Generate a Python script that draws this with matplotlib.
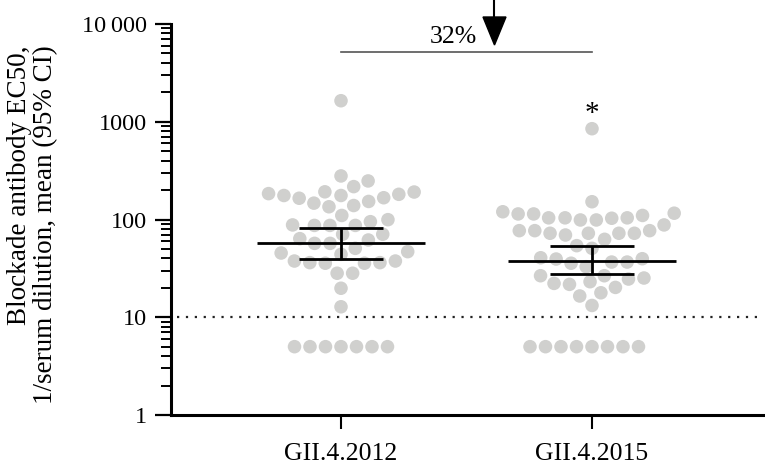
import numpy as np
import matplotlib
matplotlib.use("Agg")
import matplotlib.pyplot as plt
from matplotlib.lines import Line2D
from matplotlib.patches import Polygon
from matplotlib.ticker import LogLocator, NullFormatter, FixedLocator

plt.rcParams['font.family'] = ['Liberation Serif', 'DejaVu Serif']

categories = ["GII.4.2012", "GII.4.2015"]
values_2012 = [1641, 279, 248, 217, 191, 181, 176, 165, 147, 135, 139, 153, 167, 176,
               184, 192, 99.6, 110, 95, 87, 87, 87, 88, 70.6, 63.7, 70.6, 61.7, 57, 57,
               50.7, 45.4, 44, 46.9, 37.6, 36.2, 35.7, 35.7, 36.2, 37.6, 28.2, 28.2,
               19.8, 12.8, 5, 5, 5, 5, 5, 5, 5]
values_2015 = [849, 152, 104, 104, 98.9, 88, 116, 114, 114, 120, 98.9, 103, 104, 110,
               72.3, 72.3, 76.9, 76.9, 76.9, 69.4, 72.3, 72.3, 62.7, 50.7, 54, 39.7,
               36.7, 35.7, 32.9, 36.7, 39.4, 40.6, 26.6, 24.6, 22.2, 20.2, 21.7, 23.1,
               25.2, 26.6, 16.5, 17.8, 13.2, 5, 5, 5, 5, 5, 5, 5, 5]
means = [57, 38]
ci_low = [39.5, 27.7]
ci_high = [81, 53.6]
ytick_vals = [1, 10, 100, 1000, 10000]
ytick_labels = ["1", "10", "100", "1000", "10\u2009000"]
threshold = 10
reduction_label = "32%"

W, H = 765, 470
fig = plt.figure(figsize=(W / 100, H / 100), dpi=100)
ax = fig.add_axes([171 / W, 55 / H, (763 - 171) / W, (415 - 24) / H])
ax.set_yscale('log')
ax.set_ylim(1, 10000)
ax.set_xlim(-170 / 251, 422 / 251)

fig.canvas.draw()
px_per_unit = ax.transData.transform((1, 1))[0] - ax.transData.transform((0, 1))[0]


def swarm(values, center, diam):
    vals = np.asarray(values, float)
    ys = ax.transData.transform(np.column_stack([np.full(len(vals), center), vals]))[:, 1]
    order = np.argsort(ys, kind='stable')
    placed = []
    xs = np.zeros(len(vals))
    for i in order:
        y = ys[i]
        cands = [0.0]
        for (px, py) in placed:
            dy = y - py
            if abs(dy) < diam:
                dx = np.sqrt(diam ** 2 - dy ** 2)
                cands += [px - dx, px + dx]
        cands.sort(key=abs)
        chosen = cands[-1]
        for c in cands:
            if all((c - px) ** 2 + (y - py) ** 2 >= diam ** 2 - 1e-6 for px, py in placed):
                chosen = c
                break
        placed.append((chosen, y))
        xs[i] = chosen
    return center + xs / px_per_unit


point_color = '#d0d0ce'
for pos, vals in enumerate([values_2012, values_2015]):
    xs = swarm(vals, pos, 15.5)
    ax.scatter(xs, vals, s=95, color=point_color, edgecolors='none', zorder=2)

for pos in range(2):
    ax.hlines(means[pos], pos - 0.335, pos + 0.335, color='black', lw=2.0, zorder=4)
    ax.hlines([ci_low[pos], ci_high[pos]], pos - 0.166, pos + 0.166, color='black', lw=2.0, zorder=4)
    ax.vlines(pos, ci_low[pos], ci_high[pos], color='black', lw=2.0, zorder=4)

ax.axhline(threshold, xmin=6 / 592, xmax=1, color='#222222', ls=(0, (1, 3)), lw=1.6, zorder=1)

# bracket and annotation
ax.plot([0, 1], [5170, 5170], color='#555555', lw=1.2, clip_on=False)
ax.text(0.446, 6390, reduction_label, ha='center', va='baseline', fontsize=18.5)
ax.text(1.0, 1018, "*", ha='center', va='baseline', fontsize=21)
fig.add_artist(Line2D([494 / W, 494 / W], [1, 1 - 18 / H], color='black', lw=1.5,
                      transform=fig.transFigure))
fig.add_artist(Polygon([(483 / W, 1 - 17 / H), (506 / W, 1 - 17 / H), (494.5 / W, 1 - 45 / H)],
                       closed=True, color='black', transform=fig.transFigure))

# axes styling
for s in ['top', 'right']:
    ax.spines[s].set_visible(False)
for s in ['left', 'bottom']:
    ax.spines[s].set_linewidth(2.2)

ax.set_xticks([0, 1])
ax.set_xticklabels(categories, fontsize=18.5)
ax.yaxis.set_major_locator(FixedLocator(ytick_vals))
ax.set_yticklabels(ytick_labels, fontsize=17.5)
ax.yaxis.set_minor_locator(LogLocator(base=10, subs=np.arange(2, 10)))
ax.yaxis.set_minor_formatter(NullFormatter())
ax.tick_params(axis='x', length=10, width=1.5, pad=10)
ax.tick_params(axis='y', which='major', length=11.5, width=1.6, pad=6)
ax.tick_params(axis='y', which='minor', length=7, width=1.4)

fig.text(32.5 / W, 1 - 225 / H, "Blockade antibody EC50,\n1/serum dilution, mean (95% CI)",
         rotation=90, ha='center', va='center', multialignment='right', fontsize=19.5,
         linespacing=1.05)

fig.savefig("out.png", dpi=100, facecolor='white')
